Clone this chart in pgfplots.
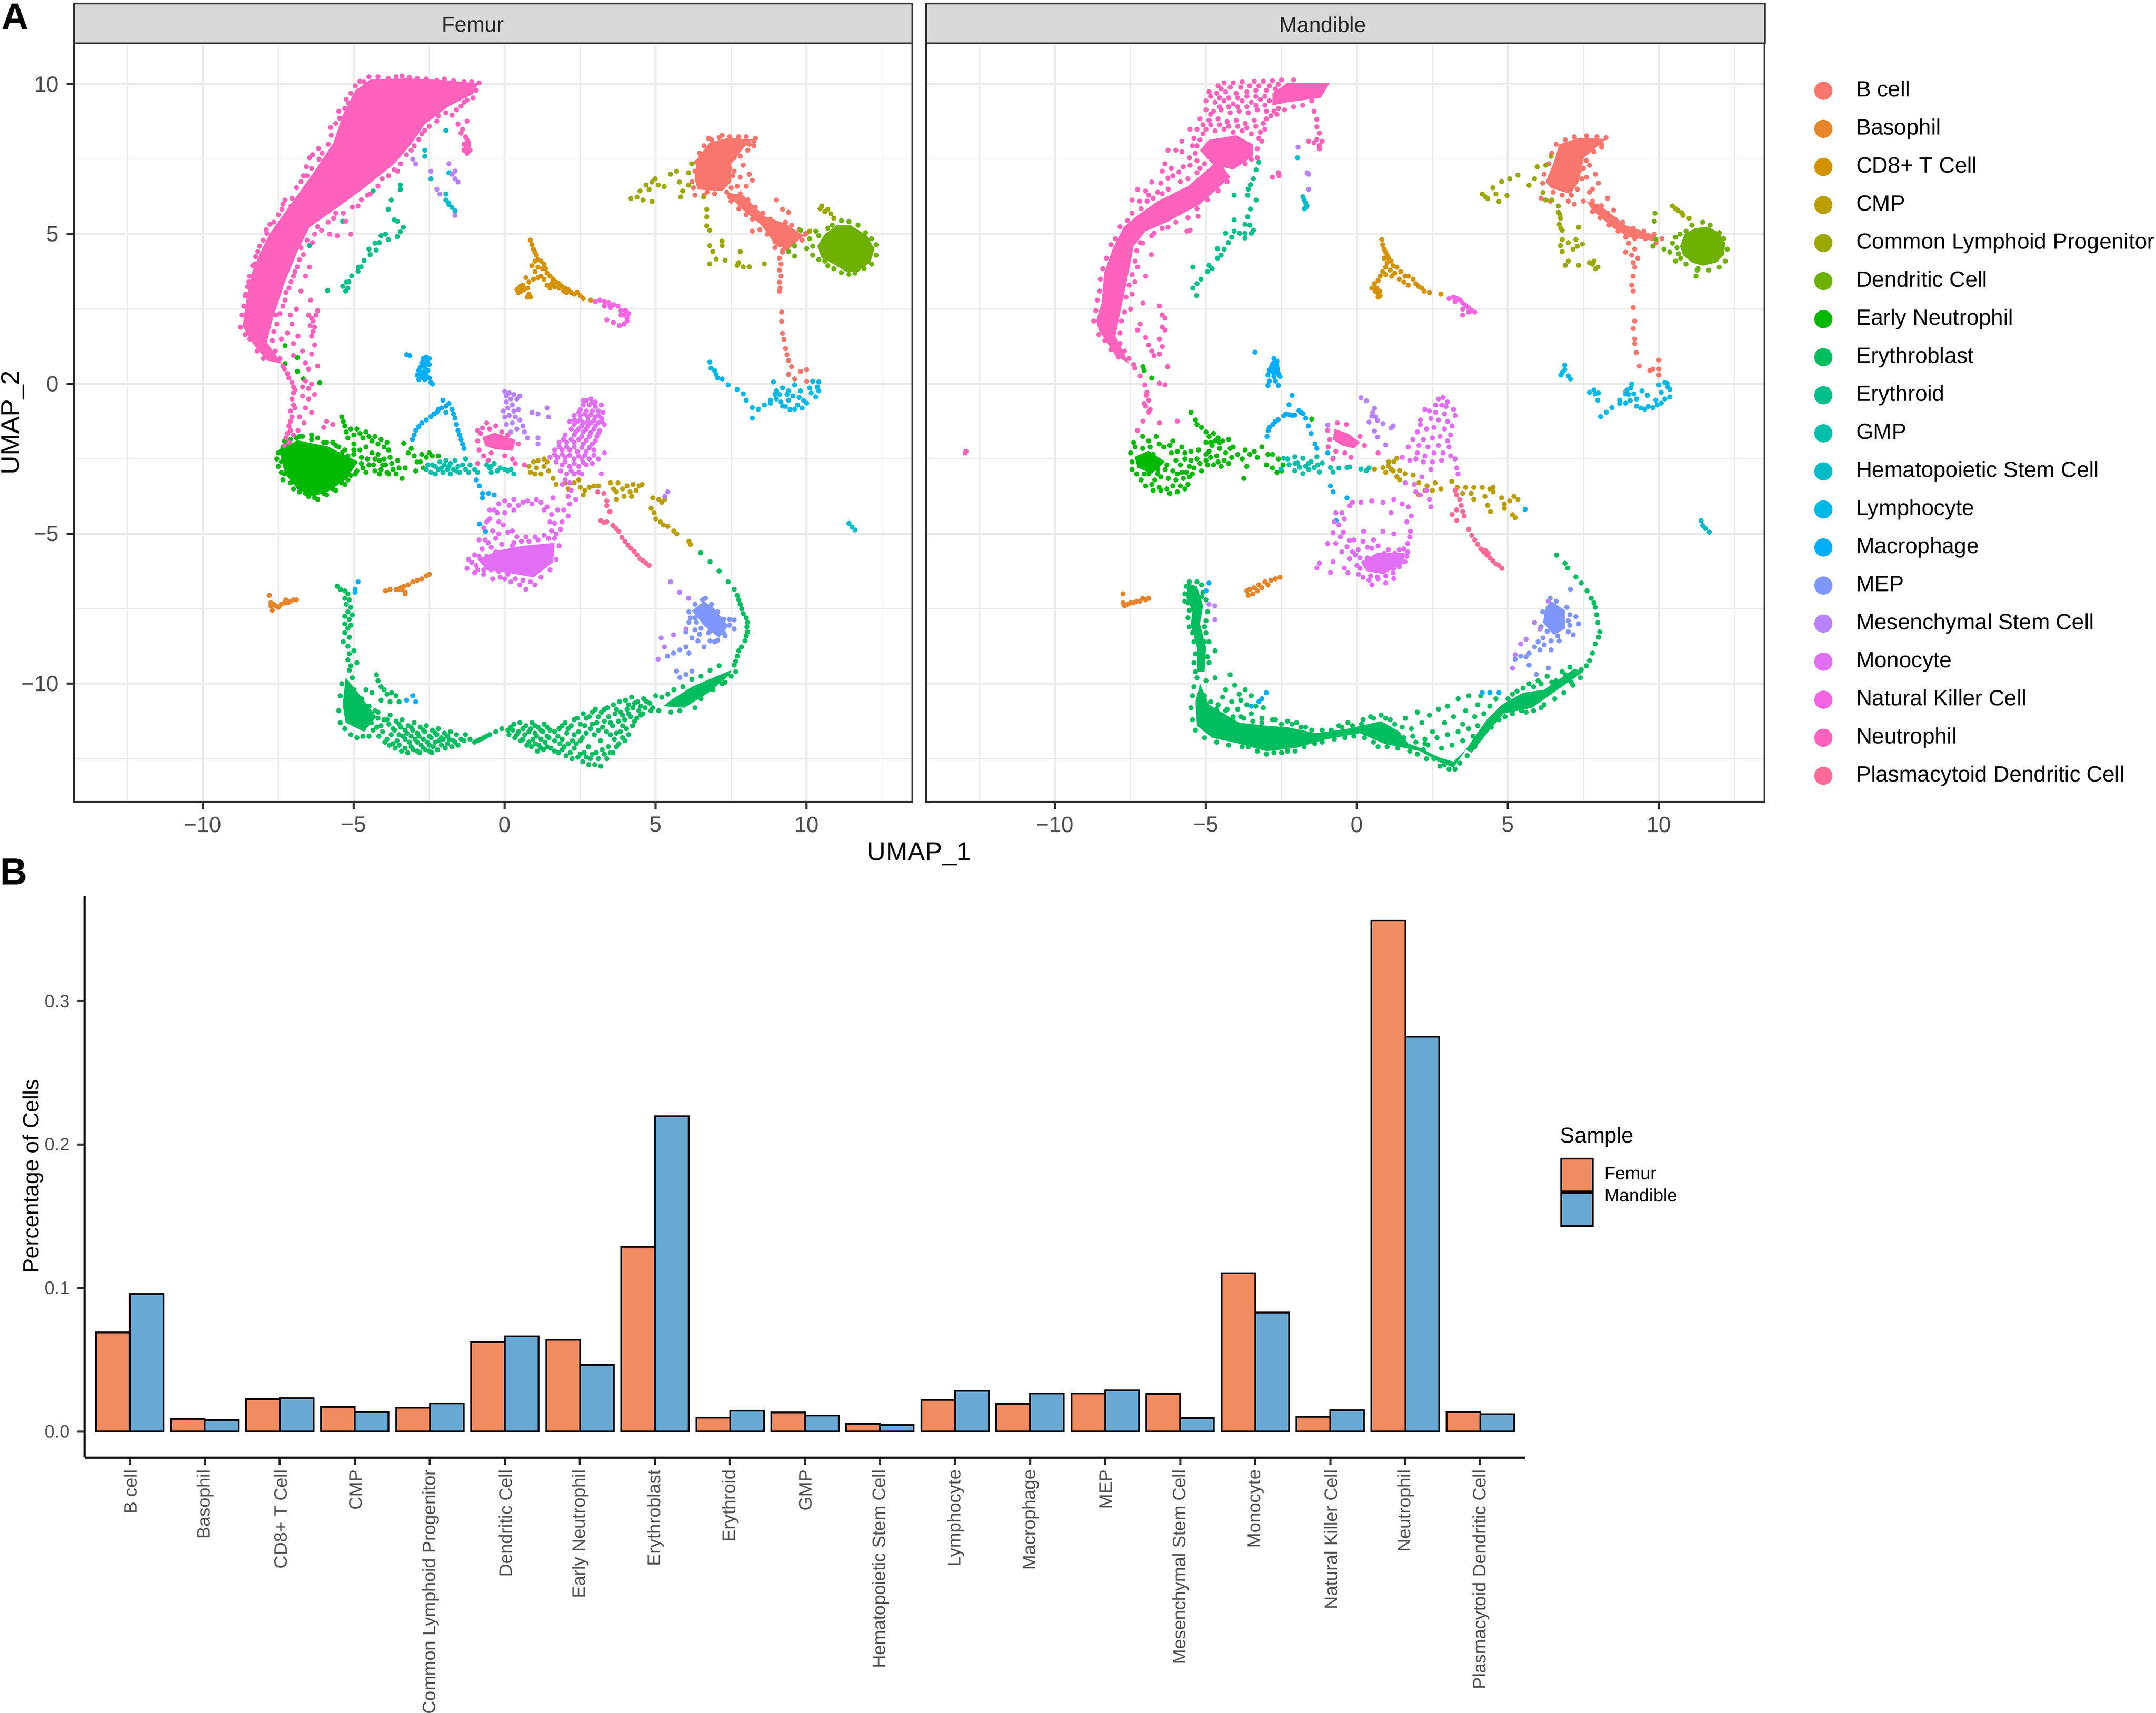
\documentclass[border=0pt]{standalone}
\usepackage{pgfplots}
\pgfplotsset{compat=1.18}
\usepackage{fontspec}
\setmainfont{Liberation Sans}

\definecolor{cB}{HTML}{F8766D}
\definecolor{cBas}{HTML}{E7852A}
\definecolor{cCD}{HTML}{D49200}
\definecolor{cCMP}{HTML}{BA9E00}
\definecolor{cCLP}{HTML}{9AA800}
\definecolor{cDC}{HTML}{6EB100}
\definecolor{cEN}{HTML}{00B900}
\definecolor{cEb}{HTML}{00BD5F}
\definecolor{cEd}{HTML}{00BF8A}
\definecolor{cGMP}{HTML}{00BFAB}
\definecolor{cHSC}{HTML}{00BCC9}
\definecolor{cLy}{HTML}{00B8E5}
\definecolor{cMac}{HTML}{00AEFB}
\definecolor{cMEP}{HTML}{7F96FF}
\definecolor{cMes}{HTML}{B983FF}
\definecolor{cMono}{HTML}{E16EF5}
\definecolor{cNK}{HTML}{F564E3}
\definecolor{cNeu}{HTML}{FF62BC}
\definecolor{cpDC}{HTML}{FF6A98}
\definecolor{gridc}{HTML}{EBEBEB}
\definecolor{framec}{HTML}{333333}
\definecolor{tickc}{HTML}{4D4D4D}
\definecolor{stripc}{HTML}{D9D9D9}
\definecolor{barF}{HTML}{F08B62}
\definecolor{barM}{HTML}{69A8D3}

\tikzset{
  pt/.style={only marks, mark=*, mark size=1pt, color=#1},
}
\pgfplotsset{
  core/.style={fill=#1, draw=none, forget plot},
  umap/.style={
    scale only axis, width=387.6pt, height=350.8pt, anchor=north west,
    xmin=-14.27, xmax=13.5, ymin=-13.94, ymax=11.37,
    xtick={-10,-5,0,5,10}, ytick={-10,-5,0,5,10},
    minor xtick={-12.5,-7.5,-2.5,2.5,7.5,12.5},
    minor ytick={-12.5,-7.5,-2.5,2.5,7.5},
    xticklabels={−10,−5,0,5,10},
    grid=both,
    major grid style={gridc, line width=1pt},
    minor grid style={gridc, line width=0.5pt},
    minor tick length=0pt,
    axis line style={framec, line width=0.8pt},
    tick style={framec, line width=1pt},
    major tick length=3.4pt,
    tick align=outside, xtick pos=bottom, ytick pos=left,
    tick label style={font=\fontsize{10.2}{12}\selectfont, text=tickc},
    clip=false,
  },
}

\begin{document}
\begin{tikzpicture}
\useasboundingbox (0,0) rectangle (996.8pt,-792.2pt);

% ---------- Femur
\begin{axis}[umap, at={(34.2pt,-20pt)}, yticklabels={−10,−5,0,5,10}]
\addplot[core=cB] coordinates {(6.29,6.85)(6.39,7.55)(6.79,8.06)(7.4,8.21)(8.2,8.16)(7.9,7.86)(7.5,7.35)(7.5,6.74)(7.2,6.44)(6.39,6.49)} --cycle;
\addplot[core=cB] coordinates {(7.3,6.4)(7.9,6.3)(8.6,5.6)(9.3,5.35)(9.9,4.95)(9.4,4.5)(9,4.6)(8.5,5.3)(7.9,5.8)} --cycle;
\addplot[pt=cB] coordinates {(7.9,7.3)(8.1,7)(8.2,6.8)(7.8,6.9)(8,6.6)(7.6,7.1)(7.7,6.6)(8.05,7.8)(8.1,8)(7.8,7.6)(9.2,5.83)(9.4,5.73)(9,6.14)(8.8,5.5)(8.2,5.1)(10,5.03)(9.05,4.7)(9.2,4.4)(9.1,4.2)(9.15,4)(9.1,3.8)(9.15,3.6)(9.1,3.4)(9.12,3.2)(9.1,3.1)(9.17,2.4)(9.17,2.09)(9.2,1.69)(9.25,1.49)(9.3,1.18)(9.35,.98)(9.4,.78)(9.5,.58)(9.8,.42)(10,.48)(9.6,.17)(10,.09)(9.4,.32)(6.3,6.3)(6.6,6.3)(8.3,8.2)(6.75,8.2)(7.2,8.3)(8.25,7.95)(9,4.9)(8.95,4.75)(9.3,4.55)
(6.25,6.55)(6.2,6.75)(6.3,7.1)(6.35,7.4)(6.45,7.7)(6.6,7.95)(6.85,8.15)(7.1,8.22)(7.45,8.25)(7.75,8.25)(8,8.25)(8.25,8.1)(7.7,7.85)(7.6,7.55)(7.45,7.2)(7.55,6.95)(7.5,6.55)(7.35,6.4)(6.95,6.35)(6.7,6.4)(7.45,6.25)(7.8,6.35)(8.05,6.15)(8.3,5.9)(8.55,5.7)(8.75,5.35)(9,5.35)(9.3,5.4)(9.5,5.3)(9.75,5.15)(9.95,5)(9.85,4.8)(9.6,4.6)(9.2,4.45)(8.95,4.55)(8.7,5)(8.45,5.15)(8.2,5.5)(8,5.65)(7.75,5.85)(7.5,6.1)};
\addplot[pt=cBas] coordinates {(-7.8,-7.05)(-7.75,-7.4)(-7.7,-7.55)(-7.6,-7.4)(-7.5,-7.45)(-7.4,-7.35)(-7.3,-7.3)(-7.2,-7.3)(-7.1,-7.25)(-7,-7.2)(-6.9,-7.2)(-7.75,-7.3)(-7.65,-7.35)(-7.25,-7.2)(-3.95,-6.9)(-3.8,-6.85)(-3.6,-6.85)(-3.5,-6.85)(-3.4,-6.85)(-3.3,-6.95)(-3.3,-7)(-3.2,-6.7)(-3.05,-6.6)(-2.9,-6.55)(-2.75,-6.5)(-2.6,-6.4)(-2.5,-6.35)(-3.35,-6.75)(-3.45,-6.8)};
\addplot[pt=cCD] coordinates {(0.85,4.8)(0.9,4.65)(0.95,4.5)(1,4.4)(1.05,4.3)(1.1,4.15)(1.2,4.1)(1.3,4)(1.35,3.85)(1,4.1)(1.1,3.9)(1.25,3.85)(1.4,3.7)(1.5,3.6)(1.6,3.5)(1.7,3.4)(1.8,3.35)(1.9,3.25)(2,3.2)(2.1,3.15)(2.2,3.05)(2.3,3)(2.4,3.05)(2.5,2.95)(2.6,2.85)(1.55,3.35)(1.65,3.25)(1.8,3.2)(1.95,3.1)(2.05,3.05)(1.2,3.6)(1.3,3.5)(1.1,3.55)(0.95,3.5)(0.8,3.4)(0.7,3.55)(0.6,3.3)(.5,3.25)(.4,3.15)(.45,3.05)(.55,3.1)(.65,3.15)(.75,3.2)(.8,3)(.75,2.9)(.85,2.9)(1,3.75)(.9,3.95)(1.4,3.3)(1.5,3.2)(2.85,2.8)};
\addplot[pt=cCMP] coordinates {(.8,-2.75)(.95,-2.6)(1.1,-2.55)(1.3,-2.5)(1.4,-2.6)(1.3,-2.75)(1.05,-2.8)(.85,-2.95)(1,-3)(1.2,-3)(1.45,-2.9)(1.6,-3.15)(1.7,-3.35)(2,-3.3)(2.1,-3.5)(2.3,-3.3)(2.45,-3.2)(2.5,-3.45)(2.65,-3.55)(2.8,-3.45)(2.95,-3.4)(3.1,-3.4)(2.6,-3.7)(3.5,-3.3)(3.6,-3.5)(3.7,-3.6)(3.75,-3.3)(3.9,-3.5)(3.95,-3.75)(4.05,-3.4)(4.15,-3.6)(4.25,-3.35)(4.35,-3.55)(4.45,-3.4)(4.55,-3.35)(4.2,-3.75)(3.7,-3.85)(4.9,-3.8)(5.1,-3.85)(5.2,-3.95)(5.3,-3.85)(4.85,-4.15)(4.95,-4.3)(5,-4.5)(5.15,-4.6)(5.25,-4.7)(5.4,-4.75)(5.6,-4.9)(5.7,-5)(6.1,-5.25)(6.15,-5.35)};
\addplot[pt=cCLP] coordinates {(4.18,6.19)(4.38,6.24)(4.58,6.14)(4.88,6.09)(4.48,6.44)(4.68,6.64)(4.88,6.74)(5.08,6.64)(5.28,6.59)(4.78,6.49)(4.98,6.85)(5.49,7)(5.69,7.1)(6.19,7.35)(5.79,6.74)(6.09,6.64)(5.89,6.44)(5.83,6.24)(6.59,6.24)(6.09,7.05)(6.69,5.83)(6.69,5.58)(6.69,5.28)(6.79,5.13)(7.2,4.77)(7.2,4.62)(6.79,4.62)(6.89,4.42)(6.79,4.01)(7,4.17)(7.3,4.13)(7.8,4.42)(7.7,3.96)(7.9,3.91)(8.1,3.91)(7.75,4.05)(8.6,4.01)(10.5,5.94)(10.7,5.83)(10.8,5.68)(10.9,5.53)(10.6,5.75)(10.45,5.85)(10.1,5.1)};
\addplot[core=cDC] coordinates {(10.35,4.6)(10.6,5)(11,5.3)(11.45,5.3)(12,4.95)(12.25,4.5)(12.1,4.05)(11.7,3.75)(11.3,3.75)(10.9,4)(10.5,4.2)} --cycle;
\addplot[pt=cDC] coordinates {(9.6,4.62)(10,4.52)(9.8,5.13)(9.4,4.42)(9.6,4.27)(10.2,4.3)(11.4,3.66)(10.4,4.95)(10.1,4.85)(10.3,5.1)(10.7,5.2)(11.15,5.45)(11.7,5.3)(12.15,4.85)(12.3,4.3)(11.9,3.85)(10.9,3.85)(10.6,4.1)(10.2,4.6)(10.85,5.3)(11.4,5.42)(11.95,5.05)(12.3,4.65)(12.15,4)(11.6,3.7)(11.15,3.72)(10.7,3.95)(10.4,4.15)};
\addplot[core=cEN] coordinates {(-7.48,-2.18)(-6.87,-1.88)(-5.87,-2.08)(-4.86,-2.59)(-5.27,-3.19)(-5.87,-3.6)(-6.37,-3.75)(-6.87,-3.5)(-7.28,-2.99)} --cycle;
\addplot[pt=cEN] coordinates {(-5.4,-1.1)(-5.35,-1.25)(-5.3,-1.4)(-5.25,-1.6)(-5.2,-1.8)(-5.1,-1.5)(-5,-1.7)(-4.9,-1.5)(-4.8,-1.65)(-4.7,-1.8)(-4.6,-1.6)(-4.5,-1.75)(-4.4,-1.9)(-4.3,-1.75)(-4.2,-2)(-4.1,-1.85)(-4,-2.1)(-3.9,-1.95)(-3.85,-2.2)(-5,-2)(-4.8,-2.2)(-4.6,-2.1)(-4.4,-2.3)(-4.2,-2.35)(-4,-2.5)(-3.8,-2.45)(-4.5,-2.7)(-4.3,-2.9)(-4.1,-2.85)(-3.9,-2.95)(-3.7,-2.85)(-3.5,-2.8)(-3.6,-3)(-4.7,-2.8)(-4.6,-2.95)(-3.4,-3.15)(-3.3,-2.8)(-3.2,-2.3)(-3.35,-1.98)(-3.1,-2.15)(-3,-2.4)(-2.9,-2.6)(-2.95,-2.9)(-2.75,-2.35)(-2.6,-2.45)(-2.5,-2.3)(-2.4,-2.4)(-2.2,-2.4)(-7.3,-1.9)(-7.2,-2)(-6.9,-1.8)(-6.7,-1.75)(-6.4,-1.7)(-6.2,-1.8)(-6,-1.95)(-5.7,-1.95)(-5.5,-2.1)(-5.4,-2.3)(-5.2,-2.4)(-5,-2.35)(-4.9,-2.9)(-5.1,-3.05)(-5.4,-3.3)(-5.7,-3.5)(-6,-3.65)(-6.3,-3.8)(-6.6,-3.65)(-7.4,-2.6)(-7.5,-2.3)(-7.3,-3)(-7.28,1.28)(-6.87,.88)(-6.87,.42)(-6.67,.17)(-6.13,.04)(-7.28,.68)(-4.3,-2.5)(-4.75,-2.45)(-4.05,-2.7)
(-7.55,-2.5)(-7.5,-2.75)(-7.4,-2.95)(-7.35,-3.2)(-7.1,-3.3)(-7,-3.5)(-6.8,-3.6)(-6.5,-3.75)(-6.2,-3.85)(-5.9,-3.7)(-5.6,-3.55)(-5.3,-3.35)(-5.2,-3.2)(-4.95,-3)(-4.75,-2.65)(-5,-2.2)(-5.3,-2.2)(-5.6,-2.05)(-5.9,-1.95)(-6.4,-1.85)(-6.8,-1.75)(-7.1,-1.85)(-7.35,-2.1)(-4.55,-2.5)(-4.35,-2.7)(-4.15,-2.55)(-3.95,-2.7)(-3.75,-2.65)(-3.55,-2.55)(-3.85,-3)(-4.15,-3)(-2.8,-2.6)(-2.7,-2.8)};
\addplot[core=cEb] coordinates {(-5.27,-9.79)(-4.86,-10.3)(-4.26,-11.1)(-4.66,-11.6)(-5.27,-11.3)(-5.37,-10.7)} --cycle;
\addplot[core=cEb] coordinates {(7.5,-9.55)(6.9,-9.8)(6.2,-10.1)(5.5,-10.55)(5.25,-10.75)(5.95,-10.8)(6.75,-10.3)(7.45,-9.7)} --cycle;
\addplot[pt=cEb] coordinates {(6.49,-5.63)(6.8,-5.93)(7.1,-6.24)(7.4,-6.6)(7.6,-6.85)(7.7,-7.05)(7.75,-7.2)(7.8,-7.35)(7.85,-7.5)(7.9,-7.66)(8,-7.8)(8.04,-7.96)(8.02,-8.1)(8.04,-8.27)(8,-8.4)(7.96,-8.57)(7.84,-8.77)(7.75,-8.9)(7.7,-9.08)(7.65,-9.25)(7.6,-9.38)(-5.55,-6.75)(-5.45,-6.85)(-5.3,-6.9)(-5.2,-7)(-5.3,-7.15)(-5.15,-7.2)(-5.25,-7.35)(-5.1,-7.45)(-5.2,-7.6)(-5.3,-7.75)(-5.15,-7.85)(-5.05,-7.7)(-5.3,-8)(-5.2,-8.15)(-5.1,-8.05)(-5.3,-8.3)(-5.15,-8.45)(-5.35,-8.6)(-5.2,-8.75)(-5,-8.9)(-5.15,-9)(-5.2,-9.2)(-5.1,-9.4)(-5.15,-9.55)(-4.9,-9.3)(-5.05,-9.8)(-4.25,-9.7)(-4.2,-9.9)(-4.1,-10.1)(-4,-10.2)(-3.9,-10.35)(-3.75,-10.3)(-3.6,-10.4)(-3.5,-10.6)(-3.8,-10.6)(-4.1,-10.55)(-4.4,-10.3)(-4.6,-10.2)
(-4.42,-11.3)(-4.36,-11.55)(-4.2,-11.15)(-4.24,-11.45)(-4.17,-11.75)(-4,-11.2)(-4.05,-11.6)(-3.97,-11.95)(-3.8,-11.05)(-3.84,-11.35)(-3.76,-11.7)(-3.82,-12.05)(-3.6,-11.25)(-3.65,-11.55)(-3.57,-11.9)(-3.63,-12.15)(-3.4,-11.2)(-3.44,-11.45)(-3.37,-11.75)(-3.42,-12.25)(-3.2,-11.4)(-3.24,-11.65)(-3.16,-11.95)(-3.22,-12.3)(-3,-11.3)(-3.05,-11.55)(-2.97,-11.85)(-3.03,-12.2)(-2.8,-11.45)(-2.84,-11.75)(-2.77,-12.05)(-2.82,-12.3)(-2.6,-11.4)(-2.65,-11.6)(-2.57,-11.95)(-2.63,-12.2)(-2.4,-11.55)(-2.44,-11.8)(-2.37,-12.1)(-2.42,-12.3)(-2.2,-11.5)(-2.25,-11.7)(-2.17,-11.9)(-2.23,-12.2)(-2,-11.65)(-2.04,-11.85)(-1.97,-12.15)(-1.8,-11.6)(-1.84,-11.85)(-1.76,-12.1)(-1.6,-11.7)(-1.65,-11.95)(-1.55,-12.05)(-1.3,-11.7)(-1.35,-11.9)(-1,-11.95)(-.8,-11.85)(-.6,-11.75)(-.5,-11.7)(-.3,-11.6)(-.1,-11.5)(.1,-11.55)(.14,-11.7)(.3,-11.35)(.26,-11.55)(.33,-11.8)(.5,-11.3)(.46,-11.6)(.53,-11.9)(.7,-11.4)(.66,-11.7)(.73,-12.05)(.9,-11.3)(.86,-11.5)(.93,-11.85)(.88,-12.1)(1.1,-11.45)(1.06,-11.75)(1.13,-12.05)(1.08,-12.25)(1.3,-11.35)(1.26,-11.6)(1.33,-11.95)(1.28,-12.2)(1.5,-11.55)(1.46,-11.8)(1.53,-12.15)(1.8,-11.5)(1.76,-11.75)(1.83,-12)(1.78,-12.3)(2,-11.3)(2.05,-11.65)(1.97,-12.1)(2.03,-12.4)(2.2,-11.4)(2.24,-11.9)(2.17,-12.3)(2.23,-12.5)(2.4,-11.15)(2.44,-11.6)(2.37,-12)(2.42,-12.45)(2.6,-11)(2.65,-11.4)(2.57,-11.8)(2.63,-12.3)(2.58,-12.6)(2.8,-11.1)(2.84,-11.5)(2.77,-12.1)(2.83,-12.5)(2.78,-12.7)(3,-10.85)(3.05,-11.3)(2.97,-11.7)(3.03,-12.3)(2.98,-12.7)(3.2,-10.95)(3.24,-11.45)(3.17,-11.9)(3.23,-12.2)(3.18,-12.75)(3.4,-10.8)(3.44,-11.1)(3.37,-11.6)(3.43,-12.1)(3.38,-12.5)(3.6,-10.7)(3.65,-11)(3.57,-11.4)(3.63,-11.85)(3.58,-12.3)(3.8,-10.6)(3.84,-10.95)(3.77,-11.25)(3.83,-11.6)(3.78,-12)(4,-10.55)(4.05,-10.85)(3.97,-11.2)(4.03,-11.5)(3.98,-11.9)(4.2,-10.45)(4.24,-10.8)(4.17,-11.1)(4.23,-11.4)(4.4,-10.6)(4.44,-10.9)(4.37,-11.15)(4.6,-10.5)(4.65,-10.8)(4.57,-11)(4.8,-10.65)(4.84,-10.9)(5,-10.4)(5.1,-10.9)(5.5,-10.95)(6.3,-10.8)(7.2,-10)(7.65,-9.6)
(-4.5,-11)(-4.3,-10.9)(-4.1,-11.4)(-3.9,-11.2)(-3.9,-11.85)(-3.7,-11.5)(-3.7,-12)(-3.5,-11.35)(-3.5,-11.7)(-3.5,-12.05)(-3.3,-11.55)(-3.3,-11.85)(-3.3,-12.15)(-3.1,-11.45)(-3.1,-11.75)(-3.1,-12.1)(-2.9,-11.65)(-2.9,-11.95)(-2.9,-12.25)(-2.7,-11.55)(-2.7,-11.85)(-2.7,-12.15)(-2.5,-11.75)(-2.5,-12.05)(-2.5,-12.25)(-2.3,-11.65)(-2.3,-11.95)(-2.1,-11.8)(-2.1,-12.05)(-1.9,-11.75)(-1.9,-12)(-1.7,-11.9)(-1.45,-11.85)(-1.15,-11.85)(-.9,-11.9)(-.7,-11.8)(.2,-11.45)(.4,-11.7)(.6,-11.5)(.6,-11.85)(.8,-11.6)(.8,-11.95)(1,-11.4)(1,-11.65)(1,-12)(1.2,-11.55)(1.2,-11.85)(1.2,-12.15)(1.4,-11.45)(1.4,-11.75)(1.4,-12.1)(1.65,-11.6)(1.65,-11.9)(1.65,-12.25)(1.9,-11.4)(1.9,-11.85)(1.9,-12.2)(2.1,-11.5)(2.1,-12)(2.3,-11.2)(2.3,-11.7)(2.3,-12.15)(2.5,-11.35)(2.5,-11.9)(2.5,-12.35)(2.7,-11.15)(2.7,-11.65)(2.7,-12.45)(2.9,-10.95)(2.9,-11.35)(2.9,-12.35)(3.1,-11.1)(3.1,-11.55)(3.1,-12.5)(3.3,-10.85)(3.3,-11.25)(3.3,-12.35)(3.5,-11.3)(3.5,-11.7)(3.5,-12.3)(3.7,-10.85)(3.7,-11.65)(3.7,-12.1)(3.9,-11.05)(3.9,-11.4)(3.9,-11.8)(4.1,-10.7)(4.1,-11)(4.1,-11.7)(4.3,-10.65)(4.3,-11.25)(4.5,-10.75)(4.5,-11.05)(4.7,-10.6)(4.9,-10.8)(5.2,-10.45)(5.4,-10.35)(5.6,-10.2)(5.9,-10.1)(6.2,-9.85)(6.5,-9.75)(6.8,-9.55)(7.1,-9.4)(5.8,-10.9)(6.5,-10.5)(6.9,-10.2)(7.3,-9.95)(7.5,-9.75)(-5.4,-10)(-5.45,-10.4)(-5.5,-10.9)(-5.45,-11.3)(-5.3,-11.5)(-5.1,-11.7)(-4.9,-11.8)(-4.7,-11.75)(-4.5,-11.75)(-5,-10.2)(-4.75,-10.5)(-4.5,-10.75)(-4.2,-10.95)};
\addplot[pt=cEd] coordinates {(-5.87,3.12)(-5.27,3.1)(-5.37,3.26)(-5.17,3.41)(-5.07,3.61)(-4.86,3.76)(-4.76,3.91)(-4.66,4.12)(-4.46,4.32)(-4.26,4.47)(-4.16,4.72)(-3.86,4.82)(-3.56,4.92)(-3.46,5.08)(-3.36,5.23)(-3.56,5.43)(-3.66,5.48)(-3.95,5)(-4.1,4.95)(-5.2,3.2)(-5.25,3.4)(-4.85,3.9)(-4.5,4.5)(-4.3,4.7)(-3.86,5.83)(-3.76,6.14)(-3.46,6.49)(-3.46,6.64)(-4.36,6.44)(-5.37,5.43)(-6.47,4.62)};
\addplot[pt=cGMP] coordinates {(-2.6,-2.85)(-2.55,-2.7)(-2.45,-2.95)(-2.4,-2.7)(-2.3,-3)(-2.3,-2.75)(-2.2,-2.85)(-2.15,-2.6)(-2.05,-2.95)(-2,-2.7)(-1.95,-2.55)(-1.9,-2.85)(-1.8,-3)(-1.8,-2.65)(-1.7,-2.85)(-1.65,-2.55)(-1.55,-2.75)(-1.5,-2.95)(-1.4,-2.7)(-1.3,-2.85)(-1.3,-2.5)(-1.2,-2.95)(-1.15,-2.7)(-1,-2.85)(-.9,-2.95)(-.6,-2.7)(-.5,-2.8)(-.45,-2.95)(-.35,-2.65)(-.25,-2.9)(-.15,-2.8)(0,-2.85)(.1,-2.9)(.2,-2.85)(.3,-3)(-.55,-2.55)(-.45,-2.75)(-2.1,-2.8)(-1.6,-2.9)(-1.85,-2.75)};
\addplot[pt=cHSC] coordinates {(-2.65,7.8)(-2.65,7.6)(-1.95,6.34)(-1.95,6.14)(-1.85,5.99)(-1.75,5.89)(-1.65,5.78)(-1.87,6.05)(-1.95,8.46)(-2.45,6.85)(-1.85,7.05)(11.4,-4.65)(11.5,-4.77)(11.6,-4.87)};
\addplot[pt=cLy] coordinates {(6.79,.73)(6.83,.53)(7,.32)(7.2,.17)(7.4,-.03)(7.7,-.18)(7.9,-.33)(8,-.54)(8.2,-.79)(8.2,-1.14)(8.4,-.84)(8.8,-.54)(9,-.23)(8.9,.07)(9.2,-.13)(9.4,-.23)(9.6,-.03)(10.2,.09)(10.4,-.23)(10.3,-.43)(10,-.64)(9.6,-.84)(9.2,-.74)(8.8,-.64)(9.4,-.54)(9.8,-.23)(10.1,-.13)(10.4,.07)(9,-.5)(9.15,-.6)(9.3,-.75)(9.45,-.85)(9.7,-.7)(9.9,-.55)(10.15,-.3)(9.55,-.4)(9.75,-.45)(8.95,-.35)(10.35,-.1)(9.85,-.8)(8.6,-.7)(6.95,.45)(7.05,.2)(9.35,-.35)(9.1,-.35)};
\addplot[pt=cMac] coordinates {(-3.25,.98)(-3.15,.95)(-2.7,.85)(-2.6,.9)(-2.5,.85)(-2.75,.7)(-2.6,.7)(-2.5,.65)(-2.8,.55)(-2.65,.55)(-2.85,.45)(-2.7,.4)(-2.55,.45)(-2.9,.3)(-2.75,.25)(-2.6,.3)(-2.65,.15)(-2.5,.2)(-2.85,.15)(-2.45,.05)(-2.4,0)(-2.7,.6)(-2.58,.78)(-2.8,.35)(-3.06,-1.85)(-2.95,-1.55)(-2.75,-1.3)(-2.45,-1.09)(-2.25,-.94)(-1.95,-.74)(-2.05,-.54)(-1.75,-.84)(-1.65,-1.14)(-1.55,-1.55)(-1.45,-1.85)(-1.35,-2.15)(-2.2,-.85)(-2.1,-.8)(-1.85,-.65)(-1.95,-.95)(-.94,-3.2)(-.84,-3.4)(-.74,-3.65)(-.54,-3.65)(-.35,-3.7)(-.74,-3.8)(-.84,-4.67)(-.64,-4.92)(-4.86,-6.6)(-4.96,-6.85)(-4.96,-6.95)(-3.05,-10.4)(-3.25,-10.55)(-2.95,-10.6)(-3,-1.7)(-2.85,-1.42)(-2.6,-1.2)(-2.35,-1)(-1.7,-1)(-1.6,-1.35)(-1.5,-1.7)(-1.4,-2)};
\addplot[core=cMEP] coordinates {(6.2,-7.56)(6.6,-7.25)(6.9,-7.45)(7.4,-8.06)(7.1,-8.47)(6.6,-8.06)} --cycle;
\addplot[pt=cMEP] coordinates {(5.59,-8.98)(6,-8.77)(6.4,-8.57)(6.8,-8.57)(6.1,-8.98)(5.8,-8.87)(5.39,-9.08)(6.2,-8.47)(6.6,-8.77)(6,-8.27)(5.69,-9.58)(6,-9.69)(6.2,-9.58)(5.8,-9.79)(7.6,-8.17)(7.6,-7.87)(6.35,-7.95)(6.3,-8.2)(6.75,-8.3)(6.95,-8.6)(7.3,-8.4)(7.45,-7.85)(6.15,-7.8)(6.65,-7.15)(6.45,-8.35)(6.1,-7.6)(6.3,-7.35)(6.55,-7.2)(6.85,-7.35)(7.05,-7.6)(7.25,-7.85)(7.45,-8.05)(7.25,-8.3)(7.05,-8.55)(6.8,-8.25)(6.5,-8.15)(6.3,-7.8)(6.1,-7.95)};
\addplot[pt=cMes] coordinates {(0,-.25)(.05,-.4)(.15,-.3)(.2,-.5)(.05,-.6)(.25,-.7)(.1,-.8)(.3,-.9)(.4,-.5)(.45,-.85)(.35,-1.1)(.15,-1.05)(.25,-1.3)(.5,-1.2)(.6,-1.4)(.65,-1.6)(.75,-1.8)(.9,-.95)(1.4,-.8)(1.45,-1.1)(1.1,-1)(-.05,-.9)(0,-1.1)(.4,-1.5)(.2,-1.6)(.5,-.4)(.05,-1.35)(.3,-.35)(1.1,-1.8)(1.1,-2)(-2.95,7.35)(-3.05,7.5)(-1.85,7.35)(-1.65,7.1)(-1.75,7)(-1.55,6.74)(-2.25,6.5)(-2.15,6.34)(-1.65,5.63)(-2.45,7.1)(-1.65,6.85)(5.4,-3.6)(5.3,-3.75)(5.18,-8.47)(5.29,-8.77)(5.59,-8.37)(5.08,-9.18)(6,-8.17)(6.09,-7.15)(5.79,-6.95)(5.49,-6.6)};
\addplot[core=cMono] coordinates {(-.9,-5.85)(-.2,-5.55)(.6,-5.4)(1.65,-5.3)(1.6,-5.95)(.95,-6.45)(.1,-6.3)(-.6,-6.2)} --cycle;
\addplot[pt=cMono] coordinates {(2.7,-.55)(2.85,-.5)(3,-.6)(2.6,-.7)(2.8,-.7)(3,-.75)(3.2,-.7)(2.5,-.85)(2.7,-.9)(2.9,-.9)(3.1,-.9)(3.25,-.95)(2.3,-1.05)(2.5,-1.05)(2.75,-1.1)(3,-1.1)(3.2,-1.15)(2.15,-1.25)(2.4,-1.25)(2.6,-1.3)(2.85,-1.3)(3.1,-1.3)(3.3,-1.35)(2.2,-1.5)(2.45,-1.5)(2.7,-1.5)(2.95,-1.5)(3.15,-1.55)(2,-1.7)(2.3,-1.7)(2.55,-1.75)(2.8,-1.75)(3.05,-1.75)(1.8,-1.95)(2.05,-1.95)(2.3,-1.95)(2.6,-2)(2.9,-2)(1.65,-2.2)(1.9,-2.2)(2.15,-2.2)(2.4,-2.25)(2.7,-2.25)(2.95,-2.2)(1.5,-2.45)(1.75,-2.45)(2,-2.45)(2.3,-2.5)(2.55,-2.5)(2.8,-2.5)(3.1,-2.5)(1.9,-2.7)(2.15,-2.75)(2.45,-2.75)(2.7,-2.7)(2.05,-3)(2.3,-3)(2.55,-3)(2,-3.2)(1.9,-3.35)(2.15,-3.3)(2.2,-3.55)(2.1,-3.75)(2.35,-3.85)(2.15,-4)(1.95,-4.2)(2.1,-4.4)(1.9,-4.6)(1.85,-4.85)(1.7,-5)(-.2,-4)(0,-3.9)(.3,-3.85)(.6,-3.95)(.9,-4)(1.2,-3.95)(-.35,-4.2)(0,-4.3)(.3,-4.2)(-.5,-4.5)(-.2,-4.6)(-.7,-4.8)(-.4,-4.9)(-.65,-5.2)(-.3,-5.15)(.1,-4.95)(-.75,-5.5)(-.45,-5.45)(-1,-5.7)(-1.2,-5.85)(.4,-5.1)(.7,-5.1)(1,-5.1)(1.3,-5.05)(1.5,-4.6)(1.75,-4.2)(1.4,-4.1)(1.6,-3.8)(-1.25,-6.15)(-1,-6.3)(-.7,-6.35)(-.4,-6.5)(0,-6.5)(.2,-6.6)(.5,-6.7)(.7,-6.85)(1,-6.7)(1.2,-6.45)(1.5,-6.2)(1.7,-5.85)(1.8,-5.4)(.85,-6.6)(3.3,-2.3)(3.2,-3)(-.9,-6.2)(-.3,-5.6)(.25,-5.4)
(2.6,-.55)(2.9,-.62)(2.45,-.95)(2.65,-1)(2.85,-1.02)(3.1,-1.05)(2.3,-1.2)(2.5,-1.2)(2.75,-1.25)(2.95,-1.22)(3.2,-1.25)(2.3,-1.35)(2.55,-1.4)(2.75,-1.4)(3,-1.4)(2.35,-1.6)(2.6,-1.6)(2.85,-1.62)(3.1,-1.65)(1.95,-1.85)(2.2,-1.85)(2.45,-1.85)(2.7,-1.88)(3,-1.9)(1.8,-2.1)(2.05,-2.1)(2.3,-2.1)(2.55,-2.12)(2.8,-2.12)(1.65,-2.35)(1.9,-2.35)(2.15,-2.38)(2.45,-2.4)(2.65,-2.38)(2.95,-2.38)(1.7,-2.6)(2,-2.6)(2.3,-2.65)(2.6,-2.62)(2.9,-2.65)(1.85,-2.9)(2.2,-2.9)(2.45,-2.95)(-1.1,-5.95)(-.85,-5.75)(-.6,-5.75)(-.95,-6.05)(-.65,-6)(-.4,-5.85)(-.15,-5.75)(-.7,-6.2)(-.45,-6.2)(-.2,-6.25)(-.15,-6.45)(.1,-6.35)(.35,-6.5)(.6,-6.55)(.3,-5.3)(.55,-5.25)(.8,-5.25)(1.1,-5.2)(1.45,-5.15)(1.65,-5.15)(-.55,-5.3)(-.1,-5.35)(-.2,-5)(.25,-4.9)(-.05,-4.7)(-.25,-4.3)(-.5,-4.2)(.15,-4.05)(.45,-4.05)(.75,-3.9)(1.05,-3.85)(1.3,-4.2)(1.55,-4.35)(1.65,-4.65)(1.55,-4.9)(-.6,-4.6)(-.85,-5.2)};
\addplot[pt=cNK] coordinates {(3,2.75)(3.15,2.8)(3.3,2.75)(3.45,2.7)(3.6,2.65)(3.75,2.6)(3.85,2.45)(3.95,2.3)(4.05,2.2)(4.1,2.35)(4,2.45)(3.85,2.3)(3.5,2.55)(3.3,2.6)(4.05,2.1)(3.38,2.14)(3.6,2.05)(3.8,1.95)(3.95,2)};
\addplot[core=cNeu] coordinates {(-8.68,1.94)(-8.58,2.7)(-8.38,3.71)(-8.08,4.42)(-7.78,5.03)(-7.28,5.73)(-6.77,6.44)(-6.27,7.15)(-5.67,8.06)(-5.37,8.97)(-4.96,9.78)(-4.46,10.16)(-3.26,10.2)(-1.85,10.13)(-.88,10.03)(-1.05,9.68)(-1.85,9.27)(-2.65,8.67)(-3.06,8.06)(-3.66,7.35)(-4.66,6.54)(-5.47,5.94)(-6.47,5.23)(-6.87,4.42)(-7.28,3.41)(-7.68,2.19)(-7.88,1.39)(-7.38,.68)(-7.88,.78)(-8.38,1.39)} --cycle;
\addplot[core=cNeu] coordinates {(-.74,-1.78)(-.34,-1.62)(.36,-1.87)(.26,-2.23)(-.34,-2.17)(-.64,-2.07)} --cycle;
\addplot[pt=cNeu] coordinates {(-5.77,8.56)(-5.47,8.87)(-5.17,9.37)(-4.86,9.78)(-4.66,10.08)(-3.86,10.2)(-3.16,10.23)(-2.25,10.13)(-1.35,10.08)(-6.37,7.65)(-6.17,7.86)(-6.47,7.55)(-6.57,7.25)(-6.67,6.95)(-6.27,6.85)(-7.28,6.14)(-7.08,5.94)(-7.38,5.83)(-7.78,5.33)(-7.88,5.03)(-8.18,4.42)(-8.28,4.01)(-8.48,3.41)(-8.58,3)(-1.25,9.47)(-1.45,9.27)(-1.75,8.97)(-1.55,8.67)(-1.25,8.77)(-2.25,8.77)(-2.65,8.46)(-2.85,8.16)(-3.26,7.65)(-3.66,7.15)(-4.06,6.85)(-4.46,6.34)(-4.86,5.94)(-5.27,5.43)(-5.67,5.53)(-6.07,5.13)(-6.37,4.72)(-6.67,4.32)(-6.87,3.91)(-7.08,3.41)(-7.28,2.8)(-7.58,2.3)(-1.25,8.15)(-1.35,8)(-1.2,7.95)(-1.3,7.85)(-1.15,7.8)(-1.25,7.7)(-1.3,8.25)(-1.2,8.05)(-1.35,7.8)(-1.45,8.37)(-1.4,8.5)
(-7.3,.5)(-7.2,.35)(-7.15,.2)(-7.05,.05)(-7,-.1)(-7,-.3)(-7.05,-.5)(-7,-.7)(-7.1,-.9)(-7.05,-1.1)(-7.1,-1.25)(-7.15,-1.4)(-7.1,-1.55)(-7.2,-1.65)(-7.25,-1.8)(-7.15,-1.95)(-7.3,-2.05)(-7,-1.7)(-6.95,-.2)(-6.95,-.8)(-6.7,-.1)(-6.6,.1)(-6.5,-.15)(-6.4,0)(-6.7,-.4)(-6.5,-.5)(-6.3,-.35)(-6.6,-.8)(-6.4,-.95)(-6.8,-1.1)(-6.65,-1.3)(-6.85,-1.55)(-6.2,.6)(-6.5,.5)(-6.4,1)(-6.3,1.3)(-6.4,1.6)(-6.35,1.75)(-6.3,1.9)(-6.45,1.95)(-6.35,2.1)(-6.25,2.3)(-6.2,2.45)(-6.5,2.3)(-6.4,2.2)(-6.9,2.5)(-7.1,2.3)(-7.05,2)(-6.85,1.6)(-7,1.35)(-7.2,1.7)(-7.4,1.5)(-6.7,1.1)(-6.6,.7)(-7,.95)(-5.9,-1.25)(-5.7,-1.35)(-6,-1.45)(-6.43,2.8)(-.74,-1.47)(-.6,-1.3)(-.3,-1.4)(-.9,-1.55)(-.9,-1.9)(-.85,-2.2)(-.7,-2.4)(-.55,-2.55)(-.9,-2.65)(0,-2.4)(.25,-2.5)(.35,-2.65)(.65,-2.7)(-.8,-1.65)(-.5,-1.5)(-.45,-2.3)(-.1,-1.6)(.1,-1.7)(.45,-2)
(-8.75,1.9)(-8.7,2.3)(-8.65,2.6)(-8.6,2.95)(-8.52,3.25)(-8.45,3.6)(-8.35,3.95)(-8.25,4.25)(-8.12,4.6)(-8,4.8)(-7.9,5.15)(-7.65,5.4)(-7.5,5.65)(-7.35,6)(-7.05,6.2)(-6.9,6.55)(-6.75,6.75)(-6.55,6.95)(-6.4,7.2)(-6.15,7.5)(-6.05,7.7)(-5.85,8)(-5.75,8.3)(-5.6,8.7)(-5.5,9.1)(-5.3,9.2)(-5.25,9.5)(-5.1,9.7)(-4.95,9.95)(-4.8,10.1)(-4.5,10.25)(-4.2,10.25)(-3.6,10.25)(-3.4,10.28)(-2.9,10.2)(-2.6,10.18)(-2,10.18)(-1.7,10.12)(-1.1,10.08)(-.85,10.05)(-.95,9.8)(-1.05,9.55)(-1.35,9.4)(-1.6,9.15)(-1.95,9.05)(-2.2,8.95)(-2.5,8.6)(-2.75,8.35)(-3,7.95)(-3.1,7.8)(-3.45,7.35)(-3.55,7.1)(-3.85,6.95)(-4.2,6.6)(-4.55,6.3)(-4.75,6.15)(-5.05,5.9)(-5.35,5.7)(-5.6,5.7)(-5.85,5.4)(-6.2,5.25)(-6.3,5)(-6.55,4.8)(-6.75,4.55)(-6.8,4.15)(-6.95,3.75)(-7,3.6)(-7.15,3.2)(-7.25,3.05)(-7.35,2.6)(-7.45,2.35)(-7.55,2)(-7.65,1.75)(-7.7,1.45)(-7.6,1.1)(-7.45,.85)(-7.35,.6)(-8,.85)(-8.2,1.1)(-8.45,1.5)(-8.6,1.65)(-6.75,3.1)(-6.6,3.6)(-5.8,5)(-5.55,4.95)(-5.1,5)(-6.47,3.9)};
\addplot[pt=cpDC] coordinates {(3.18,-4.56)(3.38,-4.6)(3.58,-4.72)(3.78,-4.92)(3.88,-5.12)(3.98,-5.25)(4.08,-5.38)(4.18,-5.48)(4.28,-5.58)(4.38,-5.7)(4.48,-5.83)(4.58,-5.9)(4.68,-5.98)(4.78,-6.05)(3.08,-3.6)(3.28,-3.65)(3.38,-3.9)(3.38,-4.06)(3.48,-4.26)(3.68,-4.82)(3.28,-4.62)};
\end{axis}

% ---------- Mandible, its plots make the colour legend
\begin{axis}[umap, at={(428.2pt,-20pt)}, yticklabels={}, ytick style={draw=none},
  legend cell align=left,
  legend image code/.code={\fill[#1] (0pt,0pt) circle (4pt);},
  legend style={at={(1.0511,0.9584)}, anchor=north west, draw=none, fill=none,
    font=\fontsize{10.2}{12}\selectfont, row sep=7.2pt,
    nodes={inner sep=0pt, text height=8pt, text depth=2.4pt},
    /tikz/every even column/.append style={column sep=0pt},
    /tikz/every odd column/.append style={column sep=11pt}}]
\addplot[core=cB] coordinates {(6.25,6.74)(6.52,7.4)(6.7,8)(7.34,8.21)(8.26,8.18)(7.52,7.55)(7.34,6.74)(7.07,6.34)(6.43,6.54)} --cycle;
\addplot[core=cB] coordinates {(7.6,6.1)(8,6)(8.9,5.3)(9.9,4.95)(10,4.75)(9,4.9)(8.5,5.2)(7.8,5.8)} --cycle;
\addplot[pt=cB] coordinates {(7.7,7.3)(7.9,7)(8,6.7)(7.6,6.9)(7.8,6.5)(7.5,7.2)(7.7,6.4)(8.1,8)(8.5,5.8)(8.3,6.2)(6.1,6.2)(6.4,6.1)(7,6.1)(7.2,6)(8.9,4.9)(9,4.7)(9.2,4.5)(8.9,4.4)(9.3,4.2)(9.1,4.3)(9.15,4.05)(9.2,3.9)(9.15,3.6)(9.1,3.3)(9.15,3.1)(9.15,2.55)(9.2,2.1)(9.15,1.85)(9.2,1.5)(9.2,1.35)(9.25,1.05)(9.35,.6)(9.8,.5)(10,.8)(10,.5)(10,.3)(9.7,.45)(8.9,-.25)
(6.15,6.7)(6.2,7)(6.35,7.35)(6.45,7.7)(6.6,8)(6.9,8.15)(7.2,8.25)(7.6,8.28)(7.95,8.25)(8.25,8.22)(8.1,7.9)(7.85,7.75)(7.6,7.45)(7.4,7.15)(7.45,6.85)(7.3,6.5)(7.1,6.3)(6.8,6.3)(6.5,6.4)(7.5,6.1)(7.8,6.1)(8.1,5.95)(8.3,5.7)(8.55,5.5)(8.8,5.4)(9.15,5.2)(9.5,5.1)(9.85,5)(10.1,4.85)(9.9,4.7)(9.55,4.85)(9.2,4.85)(8.9,5.05)(8.65,5.1)(8.35,5.3)(8.05,5.55)(7.8,5.75)};
\addlegendentry{B cell}
\addplot[pt=cBas] coordinates {(-7.75,-7)(-7.75,-7.3)(-7.7,-7.4)(-7.6,-7.35)(-7.5,-7.3)(-7.4,-7.3)(-7.3,-7.25)(-7.2,-7.25)(-7.1,-7.15)(-7,-7.2)(-6.9,-7.15)(-3.65,-6.9)(-3.55,-6.85)(-3.45,-7)(-3.4,-6.8)(-3.3,-6.9)(-3.25,-6.7)(-3.15,-6.8)(-3.05,-6.6)(-2.95,-6.7)(-2.85,-6.55)(-2.7,-6.5)(-2.55,-6.45)(-3.6,-7.05)};
\addlegendentry{Basophil}
\addplot[pt=cCD] coordinates {(.82,4.82)(.85,4.65)(.9,4.5)(.95,4.4)(1,4.3)(1.05,4.2)(.9,4.2)(1.13,4.1)(1,4.05)(1.2,3.95)(1.32,3.9)(1.45,3.75)(1.59,3.6)(1.7,3.6)(1.86,3.5)(1.95,3.35)(2.05,3.25)(2.15,3.2)(2.23,3.1)(2.4,3.05)(.95,3.9)(1.1,3.8)(1.25,3.7)(.85,3.75)(.77,3.6)(.95,3.65)(1.15,3.6)(1.4,3.5)(1.55,3.4)(.7,3.45)(.58,3.35)(.49,3.2)(.55,3.2)(.68,3.05)(.77,2.95)(.65,3.2)(.75,3.1)(1.7,3.3)(.6,3.1)(.7,2.9)(2.78,3)};
\addlegendentry{CD8+ T Cell}
\addplot[pt=cCMP] coordinates {(.58,-2.84)(.86,-2.79)(1.04,-2.74)(1.22,-2.59)(1.32,-2.48)(1.13,-2.84)(1.41,-2.89)(1.32,-3.09)(1.59,-2.99)(1.86,-3.04)(1.41,-3.19)(2.05,-3.3)(2.32,-3.4)(2.59,-3.3)(2.78,-3.5)(3.14,-3.25)(2.05,-3.7)(2.5,-3.55)(3.32,-3.45)(3.6,-3.45)(3.87,-3.45)(4.15,-3.45)(4.51,-3.45)(4.51,-3.6)(3.78,-3.65)(3.5,-3.65)(3.87,-3.85)(4.24,-3.75)(4.4,-3.5)(4.79,-3.8)(4.88,-4)(5.33,-3.85)(5.06,-3.9)(4.33,-4.05)(4.42,-4.26)(4.88,-4.15)(5.15,-4.36)(5.24,-4.46)(5.2,-3.75)(1.05,-2.6)(1.2,-2.9)(.95,-2.95)(2.25,-3.55)};
\addlegendentry{CMP}
\addplot[pt=cCLP] coordinates {(4.15,6.34)(4.33,6.19)(4.6,6.34)(4.79,6.75)(5.06,6.85)(5.33,6.97)(4.7,6.09)(4.97,6.29)(5.7,6.63)(5.88,6.85)(5.97,7.25)(6.25,7.3)(6.43,7.6)(6.25,6.14)(6.16,6.39)(6.45,6.14)(6.67,5.94)(6.67,5.73)(6.74,5.53)(6.7,5.33)(6.8,5.13)(6.8,4.82)(6.74,4.62)(6.8,4.42)(7.34,5.23)(7.25,4.82)(7,4.72)(7.47,4.67)(7.16,4.5)(7,4.1)(6.9,3.96)(7.34,3.96)(7.8,4)(7.98,3.9)(7.9,3.85)(7.7,4.05)(10.45,5.94)(10.63,5.79)(10.8,5.63)(11,5.53)(10.55,5.85)(10.75,5.72)(4.25,6.25)(4.5,6.55)(6.72,5.65)(6.75,5.2)(7.3,4.6)(7.85,4.1)};
\addlegendentry{Common Lymphoid Progenitor}
\addplot[core=cDC] coordinates {(10.7,4.6)(10.85,5)(11.2,5.2)(11.6,5.25)(12,5.05)(12.2,4.7)(12.15,4.3)(11.9,4.05)(11.45,3.95)(11.1,4.05)(10.8,4.3)} --cycle;
\addplot[pt=cDC] coordinates {(10.17,4.5)(10.45,4.7)(10.36,4.4)(10.72,4.2)(10.9,4)(11.23,3.6)(11.27,3.8)(12,3.9)(12.27,4.5)(11.45,5.4)(12,5.05)(11.09,5.3)(10.9,5.1)(9.8,4.6)(9.87,5.7)(9.85,5.43)(9.9,4.83)(10.55,4.1)(10.55,4.9)(11.3,3.85)(11.65,3.8)(12.2,4.1)(10.65,4.35)(10.7,5)(11.7,5.3)(12.15,4.85)(10.6,4.55)};
\addlegendentry{Dendritic Cell}
\addplot[core=cEN] coordinates {(-7.36,-2.43)(-6.9,-2.23)(-6.36,-2.59)(-6.8,-2.99)(-7.27,-2.79)} --cycle;
\addplot[pt=cEN] coordinates {(-7.4,-1.95)(-7.35,-2.1)(-7.1,-1.75)(-6.9,-1.9)(-6.65,-1.75)(-6.4,-2.1)(-6.1,-1.9)(-5.95,-2.25)(-6.15,-2.3)(-6,-2.55)(-5.7,-2.3)(-5.5,-2.55)(-5.3,-2.5)(-5,-2.35)(-6.6,-2.85)(-6.3,-2.7)(-6.1,-2.9)(-5.85,-2.7)(-5.65,-2.95)(-5.4,-2.8)(-5.15,-2.9)(-4.95,-2.7)(-6.9,-3)(-6.7,-3.2)(-6.5,-3.1)(-6.25,-3.15)(-6,-3.2)(-5.75,-3.15)(-5.55,-3.1)(-6.8,-3.35)(-6.55,-3.45)(-6.3,-3.5)(-6.1,-3.4)(-5.85,-3.4)(-5.6,-3.35)(-5.5,-.95)(-5.35,-1.2)(-5.3,-1.35)(-5.15,-1.45)(-5,-1.6)(-4.9,-1.75)(-4.75,-1.65)(-4.6,-1.8)(-4.45,-1.9)(-4.25,-1.85)(-4.1,-2.1)(-5,-1.95)(-4.8,-2.05)(-4.55,-2.15)(-4.35,-2.3)(-4.9,-2.25)(-4.65,-2.4)(-4.4,-2.55)(-4.15,-2.45)(-3.95,-2.35)(-3.8,-2.5)(-5,-2.55)(-4.75,-2.7)(-4.5,-2.75)(-3.7,-2.2)(-3.55,-2.35)(-3.4,-2.25)(-3.3,-2.45)(-3.15,-2.1)(-2.95,-2.35)(-2.8,-2.35)(-3,-2.7)(-2.8,-2.8)(-3.75,-3.15)(-3.65,-2.75)(-2.6,-2.5)(-2.45,-2.7)(-2.65,-2.95)(-2.5,-2.9)(-7.09,.58)(-7.05,.45)(-6.8,.2)(-6.54,.02)(-1.5,-1.17)(-7.45,-2.6)(-7.05,-3)(-5.7,-2.5)(-5.45,-3)
(-7.5,-2.3)(-7.45,-2.85)(-7.3,-3)(-7.15,-3.2)(-7,-3.4)(-6.75,-3.55)(-6.5,-3.55)(-6.2,-3.65)(-5.95,-3.6)(-5.7,-3.5)(-5.8,-2.1)(-5.5,-2.25)(-5.25,-2.2)(-6.75,-2.35)(-6.2,-2.05)(-6.55,-2)(-6.85,-2.1)(-7.1,-2.15)(-6.35,-2.85)(-6.6,-3)(-5.95,-3)(-5.2,-2.65)(-5.55,-2.75)(-5.8,-2.95)(-4.85,-1.95)(-4.7,-1.9)(-4.6,-2.6)(-4.25,-2.65)(-4.2,-2.15)(-4.55,-1.95)(-4.85,-2.45)};
\addlegendentry{Early Neutrophil}
\addplot[core=cEb] coordinates {(-5.6,-6.65)(-5.3,-6.75)(-5.1,-7.4)(-5.2,-8)(-5,-8.8)(-5.05,-9.6)(-5.3,-9.6)(-5.3,-8.8)(-5.5,-8)(-5.45,-7.6)(-5.65,-7.1)} --cycle;
\addplot[core=cEb] coordinates {(-5.2,-10)(-4.9,-10.7)(-4.4,-11)(-3.9,-11.3)(-3,-11.4)(-2.3,-11.45)(-1.35,-11.65)(-.3,-11.5)(.8,-11.25)(1.4,-11.6)(1.7,-12)(2,-12.1)(2.7,-12.45)(3.2,-12.6)(3.6,-12.2)(3.2,-12.8)(2.7,-12.6)(2.1,-12.25)(.9,-12)(.1,-11.65)(-1,-11.85)(-2.05,-12.15)(-3,-12.25)(-3.9,-12)(-4.8,-11.8)(-5.3,-11.4)(-5.35,-10.6)} --cycle;
\addplot[core=cEb] coordinates {(3.8,-12.3)(4.35,-11.6)(4.85,-11)(5.8,-10.8)(6.5,-10.3)(7.5,-9.6)(7.2,-9.5)(6.2,-10.2)(5.5,-10.3)(4.8,-10.7)(4.3,-11.2)(3.6,-12.2)} --cycle;
\addplot[pt=cEb] coordinates {(6.61,-5.71)(6.89,-5.98)(6.98,-6.14)(7.25,-6.44)(7.43,-6.64)(7.62,-6.9)(7.76,-7.15)(7.85,-7.3)(7.89,-7.45)(7.94,-7.7)(7.98,-7.96)(8.04,-8.27)(8,-8.45)(7.89,-8.67)(7.8,-8.98)(7.7,-9.23)(7.43,-9.53)(-4.9,-9.3)(-4.7,-8.9)(-5,-8.3)(-4.9,-8.6)(-4.7,-9.8)(-4.2,-9.7)(-4.05,-10.05)(-4.35,-10.2)(-3.9,-10.35)(-3.7,-10.2)(-3.5,-10.4)(-3.85,-10.55)(-4.15,-10.6)(-4.45,-10.45)(-4.6,-10.7)(-3.65,-10.7)(-3.35,-10.75)(-3.95,-10.85)(-4.3,-10.85)(-3.1,-10.8)(-3.5,-11)(-3.15,-11.15)(-3.85,-11.1)(-4.1,-11.25)(-2.7,-11.2)(-2.3,-11.25)(-2,-11.3)(-1.7,-11.45)(-.6,-11.4)(-.3,-11.3)(.2,-11.2)(.45,-11.1)(.8,-11.05)(1.1,-11.2)(1.6,-11.15)(2,-10.95)(2.15,-11.3)(1.8,-11.5)(2.4,-11.05)(2.7,-10.85)(3,-10.75)(3.35,-10.5)(3.7,-10.4)(4.1,-10.4)(4.6,-10.5)(2.5,-11.6)(2.9,-11.3)(3.2,-11.1)(3.6,-10.9)(4,-10.7)(4.4,-10.75)(3.5,-11.35)(3.9,-11.1)(4.2,-11)(2.25,-11.85)(2.65,-11.8)(3,-11.7)(3.35,-11.6)(3.7,-11.5)(4,-11.4)(2.35,-12.05)(2.8,-12.15)(3.15,-12.05)(3.5,-11.9)(3.85,-11.75)(5,-10.5)(5.3,-10.25)(5.7,-10)(6,-9.9)(6.3,-9.75)(6.6,-9.9)(6.9,-9.7)(7.1,-9.95)(5.6,-10.95)(6.1,-10.8)(2.9,-12.7)(3.25,-12.85)(2.55,-12.5)(-5.6,-7.3)(-5.15,-7.1)(-3.8,-12.1)(-3,-12.35)(-2.3,-12.25)
(-5.4,-10.1)(-5.45,-10.4)(-5.5,-10.8)(-5.45,-11.2)(-5.05,-10.4)(-4.85,-10.6)(-4.65,-10.85)(-4.35,-10.9)(-4.1,-11.1)(-3.75,-11.15)(-3.45,-11.25)(-3.15,-11.3)(-2.8,-11.2)(-2.5,-11.35)(-2.15,-11.35)(-1.85,-11.45)(-1.5,-11.55)(-1.15,-11.55)(-.85,-11.55)(-.5,-11.45)(-.15,-11.4)(.15,-11.35)(.55,-11.15)(.95,-11.15)(1.25,-11.35)(1.5,-11.45)(1.85,-11.75)(1.95,-11.95)(2.25,-12)(-5.35,-11.55)(-5.05,-11.8)(-4.65,-11.95)(-4.25,-12.05)(-3.6,-12.1)(-3.3,-12.25)(-2.75,-12.3)(-2.5,-12.3)(-2.05,-12.25)(-1.75,-12.1)(-1.4,-12)(-1.15,-11.95)(-.75,-11.85)(-.4,-11.8)(-.1,-11.75)(.25,-11.8)(.55,-11.95)(.7,-12.1)(1,-12.1)(1.35,-12.15)(1.75,-12.25)(2,-12.35)(2.3,-12.5)(2.75,-12.75)(3.05,-12.85)(3.4,-12.65)(3.65,-12.4)(3.9,-12.1)(4.1,-11.8)(4.45,-11.45)(4.7,-11.2)(4.9,-11.1)(5.15,-11)(5.45,-10.9)(5.85,-10.9)(6.2,-10.7)(6.55,-10.5)(6.85,-10.3)(7.15,-10.05)(7.4,-9.8)(7.6,-9.4)(5.15,-10.35)(5.5,-10.15)(5.85,-10.1)(6.1,-10)(6.45,-9.95)(6.8,-9.6)(7.05,-9.45)
(1,-11.6)(1.3,-11.9)(1.55,-11.8)(2.2,-12.2)(-5.65,-6.75)(-5.55,-6.6)(-5.7,-7)(-5.7,-7.25)(-5.55,-7.55)(-5.6,-7.8)(-5.55,-8.1)(-5.45,-8.3)(-5.4,-8.6)(-5.35,-9)(-5.4,-9.3)(-5.35,-9.6)(-5.3,-9.8)(-5,-9.9)(-4.95,-9.1)(-5.05,-8.6)(-5.05,-8.1)(-5,-7.9)(-4.95,-7.6)(-5,-7.2)(-5.1,-6.95)(-5.15,-6.7)(-5.3,-6.6)};
\addlegendentry{Erythroblast}
\addplot[pt=cEd] coordinates {(-3.25,7.4)(-3.34,7.15)(-3.43,6.85)(-3.53,6.65)(-3.6,6.5)(-4.07,6.3)(-3.62,6.3)(-3.34,6.14)(-3.53,5.84)(-3.62,5.58)(-4.07,5.48)(-3.71,5.33)(-3.43,5.13)(-3.71,4.87)(-4.35,5.03)(-4.26,4.72)(-4.62,4.52)(-4.4,4.5)(-4.62,4.2)(-4.9,3.96)(-5.44,3.9)(-4.8,3.85)(-5.17,3.5)(-5.44,3.2)(-5.31,2.95)(-4.07,5.1)(-3.89,5.03)(-3.71,5.03)(-3.55,5.3)(-4.15,4.9)(-4.5,4.3)(-4.95,3.75)(-5.3,3.35)(-3.5,5.03)};
\addlegendentry{Erythroid}
\addplot[pt=cGMP] coordinates {(-2.43,-2.48)(-2.25,-2.69)(-2.52,-2.84)(-2.06,-2.43)(-1.97,-2.64)(-2.06,-2.89)(-1.79,-2.48)(-1.7,-2.74)(-1.79,-2.99)(-1.52,-2.59)(-1.42,-2.79)(-1.24,-2.94)(-1.15,-2.64)(-.88,-2.79)(-.79,-2.48)(-.79,-2.94)(-.6,-2.81)(-.33,-2.79)(-.24,-2.77)(.13,-2.84)(.31,-2.89)(.4,-2.8)(-1.6,-2.85)(-2.3,-2.5)(-1.33,-2.43)(-2.05,-2.65)(-1.9,-2.78)(-1.6,-2.65)(-1.3,-2.7)};
\addlegendentry{GMP}
\addplot[pt=cHSC] coordinates {(-1.79,6.25)(-1.7,6.05)(-1.66,5.95)(-1.74,5.85)(-1.75,6.15)(-1.68,5.9)(-1.97,7.55)(11.4,-4.56)(11.45,-4.72)(11.54,-4.82)(11.67,-4.94)};
\addlegendentry{Hematopoietic Stem Cell}
\addplot[pt=cLy] coordinates {(6.88,.48)(6.8,.38)(7,.27)(7.07,.17)(6.75,.3)(6.88,.63)(7.7,-.28)(7.89,-.33)(7.98,-.54)(8.07,-1.09)(8.26,-.94)(8.44,-.79)(8.7,-.65)(8.7,-.54)(8.9,-.33)(9.07,-.13)(8.9,-.64)(9.26,-.74)(9.53,-.84)(9.8,-.79)(10.08,-.64)(10.36,-.43)(10.36,-.18)(10.27,.02)(10,-.03)(10.08,-.28)(9.62,-.38)(9.17,-.33)(9.44,-.23)(9.9,-.54)(9.26,-.5)(9,-.35)(8,-.3)(7.85,-.2)(9.05,-.55)(9.4,-.8)(9.65,-.75)(9.95,-.7)(10.2,-.5)(10.3,-.1)(10.2,.05)(8.95,-.2)(9.1,0)};
\addlegendentry{Lymphocyte}
\addplot[core=cMac] coordinates {(-2.85,.75)(-2.6,.85)(-2.55,.35)(-2.8,.2)} --cycle;
\addplot[pt=cMac] coordinates {(-3.38,1.06)(-2.75,.85)(-2.7,.7)(-2.85,.55)(-2.65,.55)(-2.8,.4)(-2.6,.35)(-2.95,.3)(-2.75,.25)(-2.9,.1)(-2.7,.1)(-2.95,-.05)(-2.8,.65)(-2.65,.75)(-2.9,.45)(-2.55,.25)(-2.6,-.05)(-2.98,-1.75)(-2.94,-1.55)(-2.79,-1.35)(-2.61,-1.19)(-2.43,-1.06)(-2.25,-1.02)(-2.06,-1.04)(-1.92,-.89)(-1.79,-.99)(-1.7,-1.14)(-1.61,-1.4)(-1.52,-1.65)(-1.39,-2)(-1.33,-2.15)(-.97,-2.3)(-2.15,-.38)(-2.25,-.69)(-.88,-3.4)(-.79,-3.6)(-.33,-3.8)(-.69,-4.56)(5.57,-4.18)(-4.9,-6.64)(-5,-6.9)(-3.25,-10.6)(-3.15,-10.5)(-3,-10.3)(-3.5,-10.75)(4.15,-10.3)(4.4,-10.3)(4.7,-10.3)(-2.9,-1.45)(-2.7,-1.25)(-2.35,-1)(-2.15,-1.05)(-1.85,-.95)};
\addlegendentry{Macrophage}
\addplot[core=cMEP] coordinates {(6.25,-7.45)(6.43,-7.25)(6.89,-7.55)(6.89,-8.16)(6.52,-8.37)(6.16,-7.96)} --cycle;
\addplot[pt=cMEP] coordinates {(7.25,-7.76)(7.34,-8)(7.16,-8.37)(7,-8.27)(6.7,-8.57)(6.43,-8.57)(6.16,-8.47)(5.88,-8.77)(6.06,-8.87)(6.43,-8.87)(5.7,-8.98)(5.42,-9.08)(5.24,-9.18)(5.7,-9.38)(6.34,-9.48)(5.94,-9.69)(7.07,-6.85)(7.05,-7.7)(6.3,-8.25)(6.65,-8.4)(7.05,-8.05)(6,-8.6)(5.6,-9.1)(6.2,-8.7)(6.15,-7.6)(6.4,-7.15)(6.6,-7.25)(6.95,-7.45)(7,-7.9)(6.1,-8.1)};
\addlegendentry{MEP}
\addplot[pt=cMes] coordinates {(5.42,-8.67)(5.6,-8.52)(5.24,-9.03)(5.15,-9.48)(6.34,-7.25)(5.88,-7.96)(6.06,-8.17)(.13,-.46)(.31,-.56)(.58,-.81)(.49,-1.07)(.4,-1.27)(.68,-1.22)(.86,-1.32)(1.13,-1.47)(1.2,-1.4)(.58,-1.57)(.68,-1.77)(.95,-2.03)(-.97,-1.37)(-4.71,-7.4)(-4.9,-7.35)(-4.71,-7.86)(-1.6,7)(-1.65,7.05)(-1.6,6.5)(-1.95,7.9)(.52,-.95)(.62,-1.1)};
\addlegendentry{Mesenchymal Stem Cell}
\addplot[core=cMono] coordinates {(.13,-5.93)(.68,-5.63)(1.59,-5.63)(1.5,-6.03)(.86,-6.34)(.31,-6.24)} --cycle;
\addplot[pt=cMono] coordinates {(2.7,-.5)(2.85,-.45)(3,-.6)(2.6,-.7)(2.8,-.7)(2.95,-.75)(2.25,-.85)(2.4,-.9)(2.6,-.95)(2.9,-1)(3.2,-.85)(3.25,-1.05)(2.1,-1.2)(2.45,-1.15)(2.7,-1.2)(3,-1.25)(3.15,-1.4)(2.1,-1.35)(2.3,-1.5)(2.55,-1.45)(2.9,-1.5)(3.1,-1.7)(2,-1.6)(2.2,-1.85)(2.5,-1.8)(2.75,-1.75)(3,-1.9)(1.85,-1.85)(2.05,-2.05)(2.35,-2.1)(2.7,-2.05)(3.05,-2.1)(1.7,-2.1)(2,-2.3)(2.25,-2.4)(2.55,-2.3)(2.85,-2.3)(3.1,-2.4)(1.5,-2.45)(1.75,-2.55)(1.95,-2.5)(2.2,-2.6)(2.5,-2.6)(2.8,-2.55)(2.45,-2.85)(3.25,-2.5)(3.3,-2.8)(3.35,-3)(2.15,-3.1)(1.9,-3.35)(1.95,-3.6)(2.1,-3.7)(2.3,-3.55)(2.4,-3.85)(2.45,-4.1)(1.6,-3.3)(.13,-3.95)(.49,-3.9)(.86,-3.95)(1.22,-3.85)(1.5,-4)(-.7,-4.3)(-.24,-4.06)(-.42,-4.5)(-.6,-4.7)(-.79,-4.97)(-.7,-5.32)(-.24,-5.22)(.22,-4.92)(1.13,-4.3)(1.8,-4.4)(1.77,-4.92)(1.68,-5.32)(1.68,-5.6)(1.22,-5)(.86,-4.92)(-.33,-5.43)(.04,-5.53)(-.97,-5.32)(-1.24,-5.98)(-1.33,-6.14)(-.88,-6.29)(-.42,-6.14)(-.79,-5.93)(-.24,-5.83)(.4,-6.54)(.95,-6.64)(1.22,-6.49)(.49,-6.7)(.68,-6.44)(1.22,-6.14)(1.59,-5.93)(1.4,-5.53)(1.04,-5.53)(.49,-5.48)(-.1,-5.2)(.2,-5.25)(.55,-5.2)(-.45,-4.95)(-.05,-5.7)(.1,-6.15)
(-.5,-5.6)(-.15,-5.6)(-.3,-6.3)(0,-6.05)(.05,-6.35)(.2,-6.45)(.45,-6.4)(.7,-6.5)(.95,-6.4)(1.2,-6.3)(1.4,-6.1)(1.65,-5.75)(1.25,-5.65)(.9,-5.65)(.65,-5.75)(.35,-5.8)(.1,-5.8)(1.55,-5.5)(1.75,-5.1)(.35,-5.45)(.7,-5.4)(-.55,-5.1)(-.75,-4.6)(-.5,-4.3)(-.15,-3.95)(1.65,-4.6)(1.7,-4.1)};
\addlegendentry{Monocyte}
\addplot[pt=cNK] coordinates {(3.05,2.85)(3.2,2.9)(3.32,2.85)(3.42,2.8)(3.5,2.7)(3.6,2.62)(3.69,2.55)(3.8,2.45)(3.9,2.4)(3.5,2.3)(3.5,2.5)(3.25,2.75)(3.7,2.4)};
\addlegendentry{Natural Killer Cell}
\addplot[core=cNeu] coordinates {(-8.64,2.1)(-8.46,2.7)(-8.37,3.71)(-8.09,4.52)(-7.73,5.23)(-7.3,5.6)(-6.6,6.1)(-5.6,6.6)(-4.9,7.2)(-4.6,7.5)(-4.2,6.9)(-5.2,6)(-6.3,5.4)(-7,5.1)(-7.4,4.6)(-7.55,3.8)(-7.8,2.6)(-8,1.6)(-7.55,.68)(-8,.95)(-8.55,1.8)} --cycle;
\addplot[core=cNeu] coordinates {(-5.2,7.8)(-4.9,8.15)(-4,8.3)(-3.45,8)(-3.45,7.6)(-4.1,7.15)(-4.8,7.35)} --cycle;
\addplot[core=cNeu] coordinates {(-2.3,10.05)(-.9,10.05)(-1.2,9.55)(-2.3,9.4)(-2.8,9.3)(-2.8,9.7)} --cycle;
\addplot[core=cNeu] coordinates {(-.74,-1.5)(-.3,-1.65)(.1,-1.95)(-.1,-2.15)(-.5,-2.05)(-.8,-1.85)} --cycle;
\addplot[pt=cNeu] coordinates {(-4.6,9.95)(-4.4,10.05)(-4.1,10.05)(-3.8,10.08)(-3.4,10.1)(-3.1,10.1)(-2.8,10.12)(-2.5,10.15)(-2.1,10.15)(-4.9,9.75)(-4.65,9.7)(-4.35,9.75)(-4,9.7)(-3.65,9.75)(-3.35,9.8)(-3,9.8)(-2.7,9.85)(-5,9.45)(-4.7,9.4)(-4.4,9.45)(-4.1,9.35)(-3.8,9.45)(-3.5,9.4)(-3.2,9.5)(-2.9,9.45)(-2.6,9.2)(-2.4,9.15)(-5,9.15)(-4.75,9.1)(-4.5,9.15)(-4.2,9.05)(-3.9,9.1)(-3.6,9.05)(-3.3,9.15)(-3,9.1)(-5.2,8.85)(-4.9,8.8)(-4.6,8.85)(-4.3,8.75)(-4,8.8)(-3.7,8.7)(-3.4,8.8)(-3.1,8.7)(-5.3,8.5)(-5.53,8.5)(-5,8.5)(-4.7,8.45)(-4.4,8.5)(-4.1,8.4)(-3.8,8.45)(-3.5,8.35)(-3.2,8.4)(-5.2,8.15)(-3.15,8.1)(-3.3,7.85)(-5.35,7.7)(-5.3,7.45)(-3.5,7.5)(-3.7,7.35)(-6.26,7.8)(-6,7.8)(-5.8,8.1)(-5.8,7.75)(-6.36,7.35)(-6.45,7.1)(-6.8,6.74)(-7.27,6.49)(-7.45,6.14)(-7,6.44)(-6.26,6.87)(-5.9,7.07)(-5.53,7.3)(-5.2,7.2)(-6.6,6.4)(-5.9,5.73)(-5.26,5.6)(-5.7,5.85)(-6.26,5.23)(-6.72,5.03)(-5.63,5.1)(-5.53,5.13)(-6.81,4.32)(-7.18,4.72)(-7.27,3.9)(-7.36,3.41)(-7,3.6)(-7.45,3)(-7.09,2.7)(-7.5,2.5)(-6.54,2.6)(-6.45,2.3)(-6.36,2.2)(-6.45,1.9)(-6.36,1.8)(-6.54,1.5)(-7,1.55)(-6.9,1.3)(-6.8,1.1)(-6.72,.95)(-6.54,1)(-6.45,1.25)(-7.27,1.8)(-7.18,2)(-7.36,.53)(-7.18,.27)(-7.03,-.03)(-6.96,-.28)(-6.9,-.54)(-7,-.74)(-6.9,-.94)(-7.09,-1.24)(-7.27,-1.55)(-6.85,-.85)(-6.27,.58)(-6.36,-.03)(-6.54,.02)(-5.95,-1.24)(-6.54,-1.3)(-7.05,-.65)(-6.98,-.38)(-12.98,-2.3)(-12.95,-2.25)(-1.33,8.16)(-1.6,8.1)(-1.24,7.96)(-1.42,8.05)(-1.15,8.1)(-1.24,8.37)(-1.33,8.58)(-1.33,8.83)(-1.42,9.1)(-1.24,7.85)(-2.58,6.95)(-2.8,6.9)(-2.6,7.05)(-.97,-1.55)(-.9,-1.85)(-.65,-1.3)(-.35,-1.35)(-.95,-2.1)(-.7,-2.25)(-.4,-2.3)(.1,-1.75)(.25,-2.05)(-.2,-2.45)(-.8,-2.5)(.7,-2.3)
(-8.72,2.1)(-8.65,2.45)(-8.6,2.8)(-8.52,3.1)(-8.5,3.5)(-8.42,3.85)(-8.3,4.2)(-8.15,4.65)(-8,4.85)(-7.85,5.25)(-7.6,5.45)(-7.45,5.7)(-7.15,5.85)(-6.95,6.1)(-6.75,6.2)(-6.45,6.35)(-6.25,6.5)(-5.85,6.75)(-5.6,6.85)(-5.3,7.05)(-5.05,7.35)(-4.3,6.75)(-4.6,6.45)(-4.95,6.15)(-5.3,5.85)(-5.6,5.55)(-6,5.4)(-6.45,5.2)(-6.8,4.95)(-7.1,4.7)(-7.3,4.45)(-7.35,4.1)(-7.45,3.65)(-7.55,3.3)(-7.65,2.9)(-7.7,2.4)(-7.8,2.1)(-7.85,1.7)(-7.85,1.35)(-7.7,1.1)(-7.55,.85)(-7.4,.65)(-7.9,.9)(-8.15,1.15)(-8.35,1.45)(-8.55,1.65)
(-4.85,9)(-4.55,9.25)(-4.25,9.25)(-3.95,9.25)(-3.65,9.25)(-3.35,9.3)(-3.05,9.3)(-2.75,9.1)(-4.85,8.65)(-4.55,8.65)(-4.25,8.6)(-3.95,8.6)(-3.65,8.55)(-3.35,8.6)(-3.05,8.5)(-4.85,9.6)(-4.55,9.55)(-4.25,9.55)(-3.95,9.55)(-3.65,9.6)(-3.35,9.6)(-3.05,9.6)(-2.55,9.55)(-4.5,9.85)(-4.2,9.9)(-3.85,9.9)(-3.55,9.95)(-3.25,9.95)(-2.9,9.95)(-2.6,10)(-5.1,8.65)(-5.1,8.35)(-5.4,8.2)(-5.45,7.95)(-5.3,7.95)(-3.3,7.55)(-3.6,7.7)(-3.25,8.2)(-3,8.85)(-2.85,8.95)(-2.65,9)(-2.1,9.25)(-1.8,9.3)(-1.5,9.45)(-6.5,6.7)(-6.1,6.95)(-5.75,7.25)(-5.55,7.55)(-6.9,6.3)(-7.2,6.1)(-6.15,7.2)};
\addlegendentry{Neutrophil}
\addplot[pt=cpDC] coordinates {(3.7,-4.85)(3.8,-5.05)(3.9,-5.2)(4,-5.35)(4.1,-5.5)(4.2,-5.6)(4.3,-5.7)(4.4,-5.8)(4.5,-5.9)(4.6,-6)(4.7,-6.05)(4.8,-6.15)(3.25,-3.55)(3.3,-3.7)(3.4,-3.85)(3.45,-4.05)(3.3,-4.2)(3.15,-4.35)(3.3,-4.55)(3.55,-4.4)(3.5,-4.25)(4.25,-5.55)(4.35,-5.65)};
\addlegendentry{Plasmacytoid Dendritic Cell}
\end{axis}

% ---------- Percentage bars
\begin{axis}[
  scale only axis, at={(39.2pt,-414.4pt)}, anchor=north west,
  width=666pt, height=259.6pt,
  xmin=-0.6, xmax=18.6, ymin=-0.0181, ymax=0.3732,
  ybar=0pt, bar width=0.45,
  axis lines*=left, axis line style={-, black, line width=1pt},
  xtick={0,...,18}, ytick={0,0.1,0.2,0.3},
  yticklabels={0.0,0.1,0.2,0.3},
  xticklabels={B cell,Basophil,CD8+ T Cell,CMP,Common Lymphoid Progenitor,Dendritic Cell,Early Neutrophil,Erythroblast,Erythroid,GMP,Hematopoietic Stem Cell,Lymphocyte,Macrophage,MEP,Mesenchymal Stem Cell,Monocyte,Natural Killer Cell,Neutrophil,Plasmacytoid Dendritic Cell},
  tick style={framec, line width=1pt}, major tick length=3.4pt, tick align=outside,
  x tick label style={rotate=90, anchor=east, inner sep=0pt, xshift=-2.1pt, yshift=-0.3pt, font=\fontsize{8.35}{10}\selectfont, text=tickc},
  y tick label style={font=\fontsize{8.3}{10}\selectfont, text=tickc},
  legend cell align=left,
  legend image code/.code={\draw[#1,line width=0.8pt] (0pt,-7.6pt) rectangle (14.6pt,7.6pt);},
  legend style={at={(1.0242,0.534)}, anchor=north west, draw=none, fill=none,
    font=\fontsize{8.3}{10}\selectfont, row sep=0pt, inner sep=0pt, outer sep=0pt,
    /tikz/every odd column/.append style={column sep=3.1pt}},
]
\addplot[fill=barF, draw=black, line width=0.8pt] coordinates {(0,.069)(1,.0087)(2,.0225)(3,.0173)(4,.0167)(5,.0623)(6,.064)(7,.1286)(8,.0098)(9,.0133)(10,.0054)(11,.0221)(12,.0194)(13,.0264)(14,.0261)(15,.1104)(16,.0102)(17,.3559)(18,.0137)};
\addlegendentry{Femur}
\addplot[fill=barM, draw=black, line width=0.8pt] coordinates {(0,.096)(1,.0078)(2,.0231)(3,.0136)(4,.0196)(5,.0663)(6,.0464)(7,.2198)(8,.0144)(9,.0112)(10,.0046)(11,.0283)(12,.0264)(13,.0285)(14,.0094)(15,.0829)(16,.0148)(17,.2751)(18,.0121)};
\addlegendentry{\raisebox{2.9pt}[0pt][0pt]{Mandible}}
\end{axis}

% ---------- strips, axis titles, panel letters
\begin{scope}[x=0.2pt,y=-0.2pt]
\draw[fill=stripc, draw=framec, line width=0.8pt] (171,8) rectangle (2109,100);
\draw[fill=stripc, draw=framec, line width=0.8pt] (2141,8) rectangle (4080,100);
\node[font=\fontsize{9.9}{12}\selectfont, text=black!85] at (1093,57) {Femur};
\node[font=\fontsize{9.9}{12}\selectfont, text=black!85] at (3058,57) {Mandible};
\node[font=\fontsize{12}{14}\selectfont] at (2125,1975) {UMAP\_1};
\node[font=\fontsize{12}{14}\selectfont, rotate=90] at (30,977) {UMAP\_2};
\node[font=\fontsize{10.3}{12}\selectfont, rotate=90] at (76,2720) {Percentage of Cells};
\node[font=\fontsize{10}{12}\selectfont, anchor=west, inner sep=0pt] at (3606,2630) {Sample};
\node[font=\bfseries\fontsize{17.4}{20}\selectfont, anchor=base west, inner sep=0pt] at (2,69) {A};
\node[font=\bfseries\fontsize{17.4}{20}\selectfont, anchor=base west, inner sep=0pt] at (0,2046) {B};
\end{scope}
\end{tikzpicture}
\end{document}
